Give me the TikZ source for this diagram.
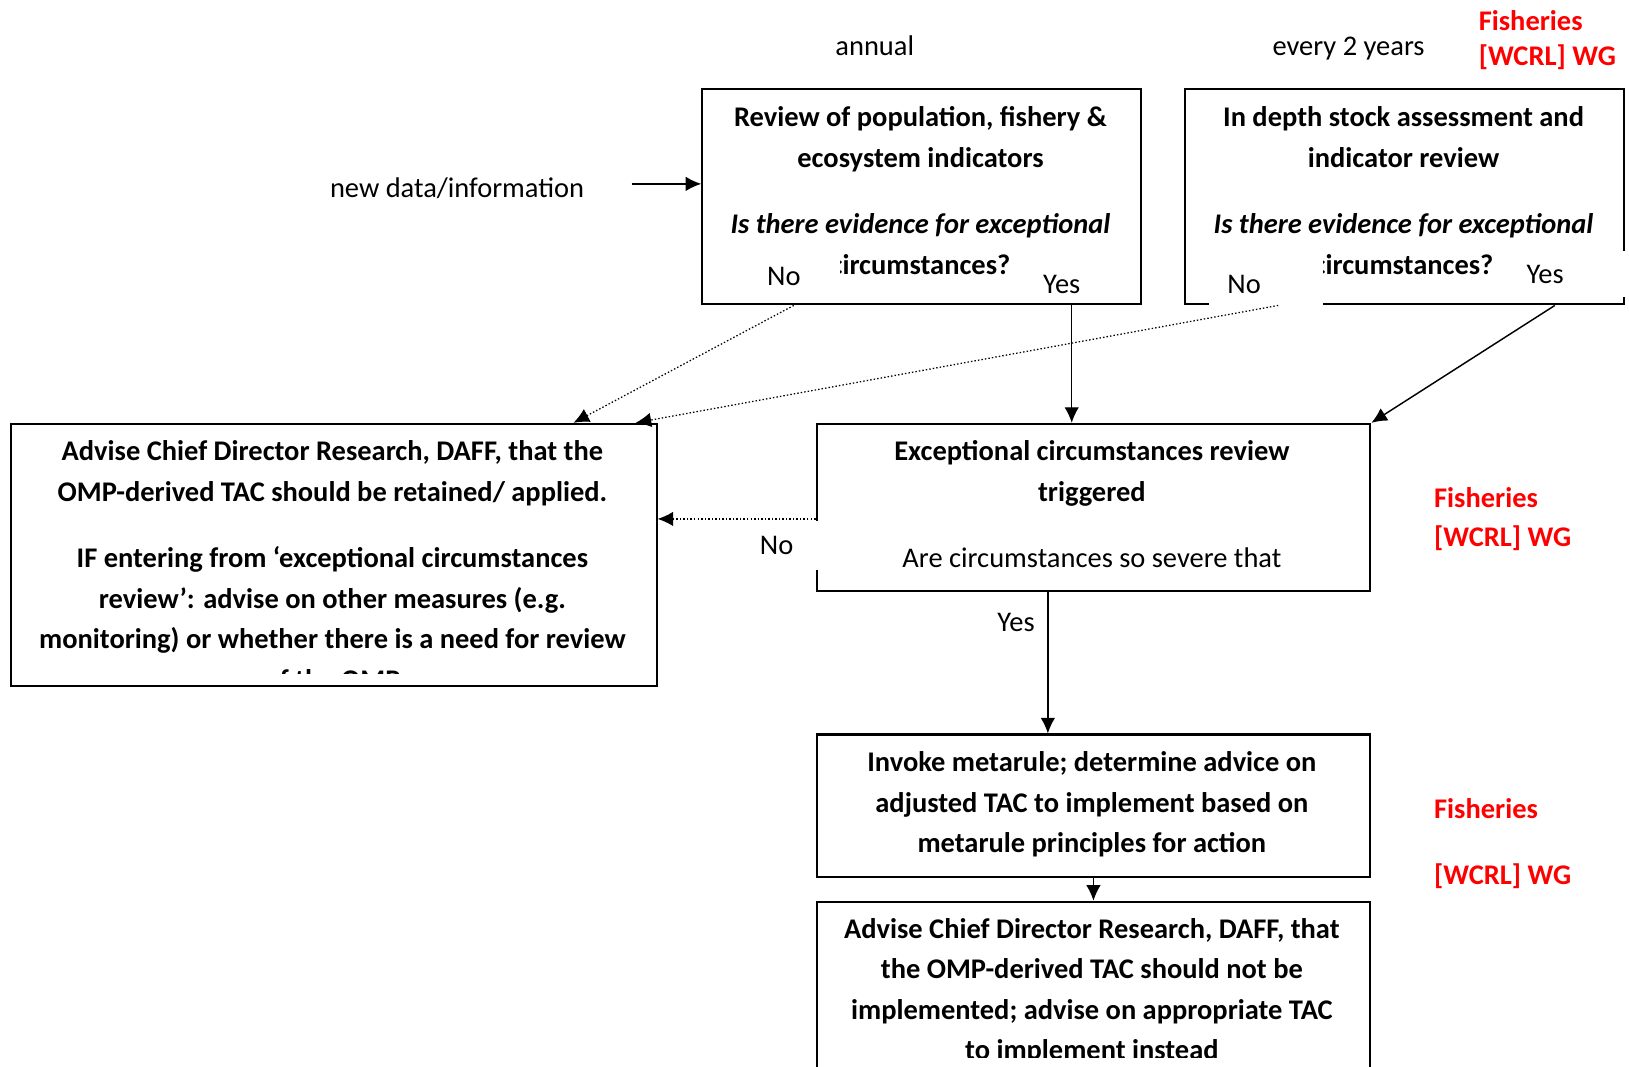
\documentclass[tikz,border=0pt]{standalone}
\usepackage{fontspec}
\setmainfont{Carlito}
\usetikzlibrary{arrows.meta,calc}

\newcommand\boxfont{\fontsize{13.7}{19.5}\selectfont}

\tikzset{
  frame/.style={draw, line width=1pt, anchor=north west, inner sep=0pt},
  boxtext/.style={anchor=north, align=center, inner sep=0pt, font=\boxfont\bfseries},
  note/.style={inner sep=0pt, font=\boxfont},
  wg/.style={anchor=west, align=left, inner sep=0pt, text=red, font=\boxfont\bfseries},
  mask/.style={fill=white, anchor=west, align=left, inner ysep=0pt, font=\boxfont},
  arr/.style={-{Latex[length=7.5pt,width=7pt]}, line width=0.7pt},
  dotarr/.style={arr, densely dotted, line width=0.6pt},
}

\begin{document}
\begin{tikzpicture}[x=0.5pt, y=-0.5pt]
    \clip (0,0) rectangle (1568,1027);

    % timing and working group labels
    \node[note] (annual) at (842,44) {annual};
    \node[note] (biennial) at (1298,47) {every 2 years};
    \node[note] (newdata) at (440,181) {new data/information};
    \node[wg] (wgtop) at (1423,38.5) {Fisheries\\[-2.5pt][WCRL] WG};
    \node[wg] (wgmid) at (1380,499.5) {Fisheries\\[-0.5pt][WCRL] WG};
    \node[wg] (wglow) at (1380,812) {Fisheries\\[12.5pt][WCRL] WG};

    % boxes
    \node[frame, minimum width=211pt, minimum height=103.5pt] (review) at (675,85) {};
    \node[frame, minimum width=211pt, minimum height=103.5pt] (stockrev) at (1140,85) {};
    \node[frame, minimum width=310.5pt, minimum height=126pt] (retain) at (10,407) {};
    \node[frame, minimum width=266.5pt, minimum height=80.5pt] (excrev) at (785,407) {};
    \node[frame, minimum width=266.5pt, minimum height=68.5pt] (metarule) at (785,706) {};
    \node[frame, minimum width=266.5pt, minimum height=85pt] (notimpl) at (785,867) {};

    % box texts
    \node[boxtext] (reviewtxt) at (886,102.5) {Review of population, fishery \&\\ecosystem indicators\\[12.5pt]\itshape Is there evidence for exceptional\\circumstances?};
    \node[boxtext] (stockrevtxt) at (1351,102.5) {In depth stock assessment and\\indicator review\\[12.5pt]\itshape Is there evidence for exceptional\\circumstances?};
    \begin{scope}
        \clip (11,408) rectangle (630,648);
        \node[boxtext] (retaintxt) at (320,424) {Advise Chief Director Research, DAFF, that the\\OMP-derived TAC should be retained/ applied.\\[12.5pt]IF entering from ‘exceptional circumstances\\review’: advise on other measures (e.g.\\monitoring) or whether there is a need for review\\of the OMP};
    \end{scope}
    \begin{scope}
        \clip (786,408) rectangle (1317,567);
        \node[boxtext] (excrevtxt) at (1051,424) {Exceptional circumstances review\\triggered\\[12.5pt]\mdseries Are circumstances so severe that};
    \end{scope}
    \node[boxtext] (metaruletxt) at (1051,723) {Invoke metarule; determine advice on\\adjusted TAC to implement based on\\metarule principles for action};
    \begin{scope}
        \clip (786,868) rectangle (1317,1018);
        \node[boxtext] (notimpltxt) at (1051,883.5) {Advise Chief Director Research, DAFF, that\\the OMP-derived TAC should not be\\implemented; advise on appropriate TAC\\to implement instead};
    \end{scope}

    % decision labels
    \node[mask, inner xsep=4pt, text width=31pt, minimum height=24pt] (noA) at (730,266) {No};
    \node[note] (yesA) at (1022,274) {Yes};
    \node[mask, inner xsep=9pt, text width=37pt, minimum height=26pt] (noB) at (1163,274) {No};
    \node[mask, inner xsep=9.5pt, text width=39pt, minimum height=22pt] (yesB) at (1450,264) {Yes};
    \node[mask, inner xsep=8pt, text width=21.5pt, minimum height=23.5pt] (noC) at (715,525) {No};
    \node[note] (yesC) at (978,599) {Yes};

    % connectors
    \coordinate (feed) at (608,177);
    \draw[arr] (feed) -- (feed -| review.west);
    \draw[dotarr] ($(review.south west)!0.21!(review.south east)$) -- ($(retain.north west)!0.87!(retain.north east)$);
    \draw[dotarr] ($(stockrev.south west)!0.213!(stockrev.south east)$) -- ($(retain.north west)!0.966!(retain.north east)$);
    \coordinate (yesAout) at ($(review.south west)!0.841!(review.south east)$);
    \draw[arr] (yesAout) -- (yesAout |- excrev.north);
    \draw[arr] ($(stockrev.south west)!0.841!(stockrev.south east)$) -- (excrev.north east);
    \draw[dotarr] ([yshift=-5.5pt]excrev.west) -- ([yshift=-5.5pt]excrev.west -| retain.east);
    \coordinate (yesCout) at ($(excrev.south west)!0.418!(excrev.south east)$);
    \draw[arr] (yesCout) -- (yesCout |- metarule.north);
    \draw[arr] (metarule.south) -- (notimpl.north);
\end{tikzpicture}
\end{document}
